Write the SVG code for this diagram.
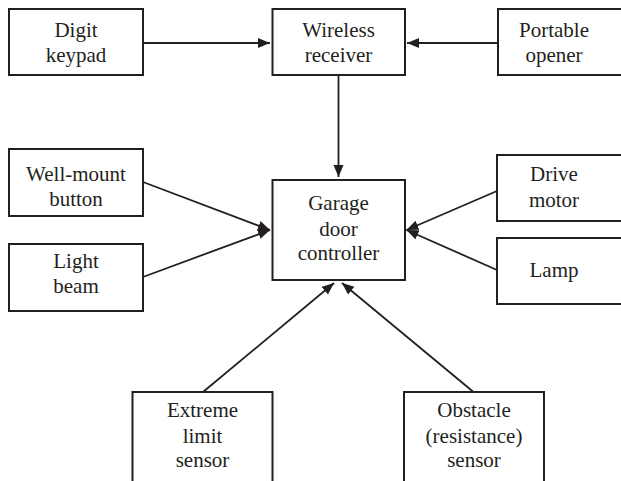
<svg xmlns="http://www.w3.org/2000/svg" width="621" height="481" viewBox="0 0 621 481">
<style>
.box{fill:#fff;stroke:#231f20;stroke-width:2}
.lbl{font-family:'Liberation Serif','Times New Roman','DejaVu Serif',serif;font-size:21px;fill:#231f20;text-anchor:middle}
.conn{stroke:#231f20;stroke-width:1.8;fill:none}
</style>
<defs>
<marker id="ah" markerUnits="userSpaceOnUse" markerWidth="14" markerHeight="12" refX="12" refY="5" orient="auto">
<path d="M0,0 L12,5 L0,10 z" fill="#231f20"/>
</marker>
</defs>
<rect width="621" height="481" fill="#fff"/>
<g id="connectors">
<line class="conn" x1="143" y1="43" x2="270" y2="43" marker-end="url(#ah)"/>
<line class="conn" x1="498" y1="43" x2="407" y2="43" marker-end="url(#ah)"/>
<line class="conn" x1="338.5" y1="75" x2="338.5" y2="177" marker-end="url(#ah)"/>
<line class="conn" x1="143" y1="182" x2="270" y2="230" marker-end="url(#ah)"/>
<line class="conn" x1="143" y1="277" x2="270" y2="230" marker-end="url(#ah)"/>
<line class="conn" x1="497" y1="191" x2="406.5" y2="230" marker-end="url(#ah)"/>
<line class="conn" x1="497" y1="270" x2="406.5" y2="230" marker-end="url(#ah)"/>
<line class="conn" x1="203" y1="392" x2="334" y2="283" marker-end="url(#ah)"/>
<line class="conn" x1="473.5" y1="392" x2="342" y2="283" marker-end="url(#ah)"/>
</g>
<g id="digit-keypad">
<rect class="box" x="9" y="9" width="134" height="66"/>
<text class="lbl" x="76" y="36.5" font-family="Liberation Serif, serif">Digit</text>
<text class="lbl" x="76" y="62">keypad</text>
</g>
<g id="wireless-receiver">
<rect class="box" x="272.5" y="9" width="132.5" height="66"/>
<text class="lbl" x="338.5" y="36.5">Wireless</text>
<text class="lbl" x="338.5" y="62">receiver</text>
</g>
<g id="portable-opener">
<rect class="box" x="498" y="9" width="140" height="66"/>
<text class="lbl" x="554" y="36.5">Portable</text>
<text class="lbl" x="554" y="62">opener</text>
</g>
<g id="well-mount-button">
<rect class="box" x="9" y="149" width="134" height="67"/>
<text class="lbl" x="76" y="180.5">Well-mount</text>
<text class="lbl" x="76" y="205.5">button</text>
</g>
<g id="light-beam">
<rect class="box" x="9" y="244" width="134" height="67"/>
<text class="lbl" x="76" y="268">Light</text>
<text class="lbl" x="76" y="293">beam</text>
</g>
<g id="garage-door-controller">
<rect class="box" x="272.5" y="180" width="132.5" height="100"/>
<text class="lbl" x="338.5" y="210">Garage</text>
<text class="lbl" x="338.5" y="235.5">door</text>
<text class="lbl" x="338.5" y="260">controller</text>
</g>
<g id="drive-motor">
<rect class="box" x="497" y="155" width="140" height="66"/>
<text class="lbl" x="554" y="180.5">Drive</text>
<text class="lbl" x="554" y="206.5">motor</text>
</g>
<g id="lamp">
<rect class="box" x="497" y="238" width="140" height="66"/>
<text class="lbl" x="554" y="276.5">Lamp</text>
</g>
<g id="extreme-limit-sensor">
<rect class="box" x="132.5" y="392" width="140" height="110"/>
<text class="lbl" x="202.5" y="416.5">Extreme</text>
<text class="lbl" x="202.5" y="442.5">limit</text>
<text class="lbl" x="202.5" y="467">sensor</text>
</g>
<g id="obstacle-sensor">
<rect class="box" x="404" y="392" width="140" height="110"/>
<text class="lbl" x="474" y="416.5">Obstacle</text>
<text class="lbl" x="474" y="442.5">(resistance)</text>
<text class="lbl" x="474" y="467">sensor</text>
</g>
</svg>
